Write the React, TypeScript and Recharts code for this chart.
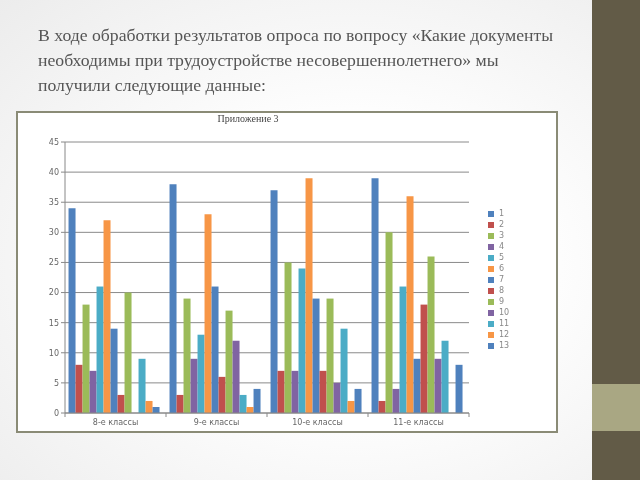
import { Bar, BarChart, CartesianGrid, XAxis, YAxis } from 'recharts';

const categories = ['8-е классы', '9-е классы', '10-е классы', '11-е классы'];
const seriesNames = ['1', '2', '3', '4', '5', '6', '7', '8', '9', '10', '11', '12', '13'];

const grade8 = [34, 8, 18, 7, 21, 32, 14, 3, 20, 0, 9, 2, 1];
const grade9 = [38, 3, 19, 9, 13, 33, 21, 6, 17, 12, 3, 1, 4];
const grade10 = [37, 7, 25, 7, 24, 39, 19, 7, 19, 5, 14, 2, 4];
const grade11 = [39, 2, 30, 4, 21, 36, 9, 18, 26, 9, 12, 0, 8];

const yTicks = [0, 5, 10, 15, 20, 25, 30, 35, 40, 45];

const PALETTE = ['#4F81BD', '#C0504D', '#9BBB59', '#8064A2', '#4BACC6', '#F79646'];

function seriesColor(index: number): string {
  return PALETTE[index % PALETTE.length];
}

const groups = [grade8, grade9, grade10, grade11];

const chartData = categories.map((name, ci) => {
  const row: Record<string, string | number> = { name };
  seriesNames.forEach((s, si) => {
    row['s' + s] = groups[ci][si];
  });
  return row;
});

function CategoryTick(props: any) {
  const { x, y, payload } = props;
  const half = payload?.offset ?? 50;
  return (
    <g>
      <line x1={x - half} y1={y - 8} x2={x - half} y2={y - 4} stroke="#888" />
      {payload.index === categories.length - 1 && (
        <line x1={x + half} y1={y - 8} x2={x + half} y2={y - 4} stroke="#888" />
      )}
      <text x={x} y={y + 4} textAnchor="middle" fontSize={8} fill="#666" fontFamily="'DejaVu Sans', sans-serif">
        {payload.value}
      </text>
    </g>
  );
}

export default function App() {
  return (
    <div
      style={{
        position: 'fixed',
        left: 0,
        top: 0,
        width: 640,
        height: 480,
        overflow: 'hidden',
        background: 'radial-gradient(ellipse at 55% 55%, #ffffff 35%, #ececec 100%)',
      }}
    >
      <div
        style={{
          position: 'absolute',
          left: 38,
          top: 23,
          width: 560,
          fontFamily: "'Liberation Serif', serif",
          fontSize: 17.7,
          lineHeight: '25px',
          color: '#555',
        }}
      >
        В ходе обработки результатов опроса по вопросу «Какие документы
        <br />
        необходимы при трудоустройстве несовершеннолетнего» мы
        <br />
        получили следующие данные:
      </div>

      <div style={{ position: 'absolute', left: 592, top: 0, width: 48, height: 480, background: '#625b47' }} />
      <div style={{ position: 'absolute', left: 592, top: 384, width: 48, height: 47, background: '#a9a783' }} />

      <div
        style={{
          position: 'absolute',
          left: 16,
          top: 111,
          width: 538,
          height: 318,
          background: '#fff',
          border: '2px solid #8a8b76',
        }}
      >
        <div
          style={{
            position: 'absolute',
            left: 0,
            top: 0,
            width: 460,
            textAlign: 'center',
            fontFamily: "'Liberation Serif', serif",
            fontSize: 10,
            color: '#444',
          }}
        >
          Приложение 3
        </div>

        <BarChart
          width={538}
          height={318}
          data={chartData}
          margin={{ top: 29, right: 87, left: 17, bottom: 1 }}
          barCategoryGap="3.5%"
          barGap={0}
        >
          <CartesianGrid vertical={false} stroke="#8a8a8a" />
          <YAxis
            width={30}
            domain={[0, 45]}
            ticks={yTicks}
            interval={0}
            tick={{ fontSize: 8, fill: '#666', fontFamily: "'DejaVu Sans', sans-serif" }}
            tickSize={4}
            tickMargin={2}
            axisLine={{ stroke: '#888' }}
            tickLine={{ stroke: '#888' }}
          />
          <XAxis
            dataKey="name"
            height={17}
            interval={0}
            axisLine={{ stroke: '#888' }}
            tickLine={false}
            tick={<CategoryTick />}
          />
          {seriesNames.map((s, i) => (
            <Bar key={s} dataKey={'s' + s} name={s} fill={seriesColor(i)} isAnimationActive={false} />
          ))}
        </BarChart>

        <div style={{ position: 'absolute', left: 470, top: 95 }}>
          {seriesNames.map((s, i) => (
            <div key={s} style={{ display: 'flex', alignItems: 'center', height: 11 }}>
              <span style={{ width: 6, height: 6, background: seriesColor(i), marginRight: 5 }} />
              <span style={{ fontSize: 8, color: '#888', fontFamily: "'DejaVu Sans', sans-serif" }}>{s}</span>
            </div>
          ))}
        </div>
      </div>
    </div>
  );
}
